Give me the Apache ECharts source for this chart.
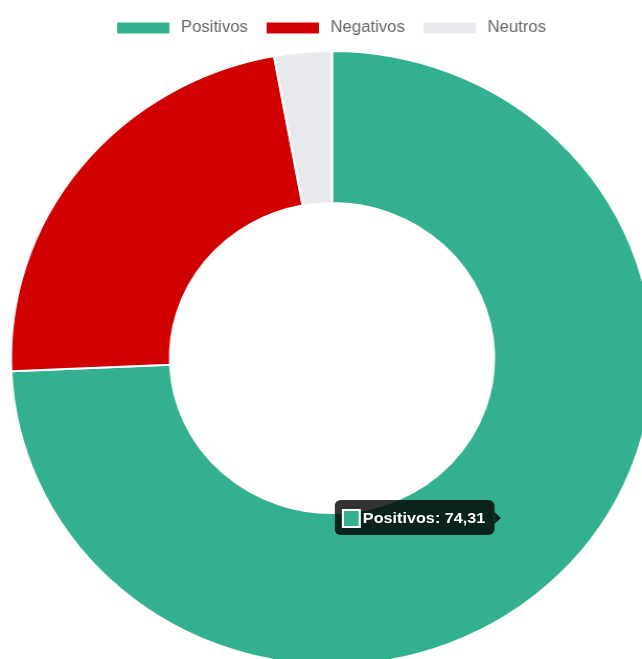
<!DOCTYPE html>
<html>
<head>
<meta charset="utf-8">
<script src="https://cdn.jsdelivr.net/npm/echarts@6/dist/echarts.min.js"></script>
<style>
  html, body { margin: 0; padding: 0; background: #fff; overflow: hidden; }
  /* the reference is slightly stretched horizontally */
  #chart { width: 614px; height: 659px; transform: scaleX(1.0456); transform-origin: 0 0; }
</style>
</head>
<body>
<div id="chart"></div>
<script>
const categories = ['Positivos', 'Negativos', 'Neutros'];
const values = [74.31, 22.80, 2.89];
const colors = ['#33b08f', '#d10000', '#e8e9ed'];

const fontFamily = '"Liberation Sans", Arial, Helvetica, sans-serif';
const fmt = v => v.toFixed(2).replace('.', ',');

const chart = echarts.init(document.getElementById('chart'));

const option = {
  animation: false,
  color: colors,
  legend: {
    top: 15,
    left: 105,
    icon: 'rect',
    itemWidth: 52,
    itemHeight: 13,
    itemGap: 16,
    textStyle: { color: '#666', fontSize: 16, fontFamily, padding: [0, 0, 0, 5] },
    data: categories
  },
  tooltip: {
    trigger: 'item',
    triggerOn: 'none',
    alwaysShowContent: true,
    transitionDuration: 0,
    backgroundColor: 'rgba(0,0,0,0.8)',
    borderWidth: 0,
    padding: [7, 9, 7, 7],
    extraCssText: 'box-shadow:none;border-radius:6px;',
    textStyle: { color: '#fff', fontSize: 15.5, fontWeight: 'bold', fontFamily },
    position: () => [320, 500],
    formatter: p =>
      '<div style="position:relative;line-height:21px;white-space:nowrap">' +
      '<span style="display:inline-block;width:14px;height:15px;border:2px solid #fff;background:' + p.color +
      ';vertical-align:-5px;margin-right:2px"></span>' +
      p.name + ': ' + fmt(p.value) +
      '<span style="position:absolute;right:-15px;top:50%;margin-top:-6px;width:0;height:0;' +
      'border-left:6px solid rgba(0,0,0,0.8);border-top:6px solid transparent;border-bottom:6px solid transparent"></span>' +
      '</div>'
  },
  series: [
    {
      name: 'Sentimiento',
      type: 'pie',
      center: [317.5, 358],
      radius: [155, 307],
      startAngle: 90,
      label: { show: false },
      labelLine: { show: false },
      itemStyle: { borderColor: '#fff', borderWidth: 2 },
      emphasis: { scale: false },
      data: categories.map((name, i) => ({ name, value: values[i] }))
    }
  ]
};

chart.setOption(option);
chart.dispatchAction({ type: 'showTip', seriesIndex: 0, dataIndex: 0 });
</script>
</body>
</html>
